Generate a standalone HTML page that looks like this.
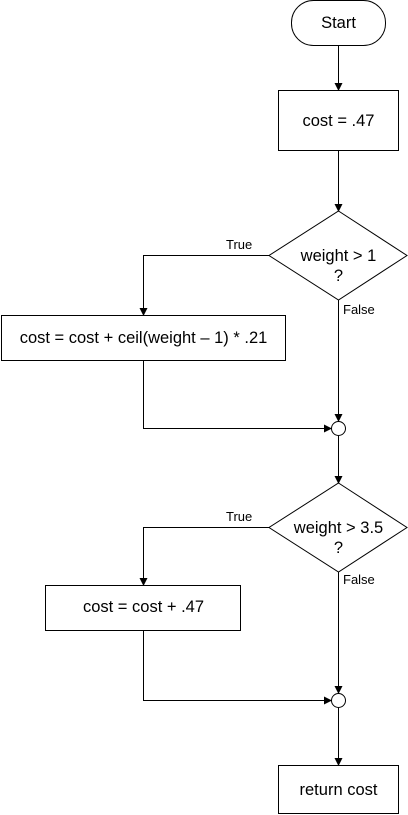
<!DOCTYPE html>
<html><head><style>body{margin:0;background:#fff}svg{display:block}</style></head><body>
<svg width="408" height="815" xmlns="http://www.w3.org/2000/svg" font-family="Liberation Sans, Arial, sans-serif">
<defs><marker id="a" markerWidth="8" markerHeight="8" refX="7" refY="4" orient="auto" markerUnits="userSpaceOnUse"><path d="M0,0 L8,4 L0,8 z" fill="#000"/></marker></defs>
<g fill="none" stroke="#000" stroke-width="1">
<rect x="291.5" y="0.5" width="94" height="45" rx="22" ry="22"/>
<rect x="278.5" y="90.5" width="120" height="60"/>
<polygon points="338.5,211 407,255.5 338.5,300 269,255.5"/>
<rect x="1.5" y="315.5" width="284" height="45"/>
<circle cx="338.5" cy="428.5" r="7"/>
<polygon points="338.5,483 407,527.5 338.5,572 269,527.5"/>
<rect x="45.5" y="585.5" width="195" height="45"/>
<circle cx="338.5" cy="700.5" r="7"/>
<rect x="278.5" y="765.5" width="120" height="48"/>
<path d="M338.5,45 V90" marker-end="url(#a)"/>
<path d="M338.5,151 V211" marker-end="url(#a)"/>
<path d="M269,255.5 H143.5 V315" marker-end="url(#a)"/>
<path d="M338.5,300 V421" marker-end="url(#a)"/>
<path d="M143.5,361 V428.5 H331" marker-end="url(#a)"/>
<path d="M338.5,436 V483" marker-end="url(#a)"/>
<path d="M269,527.5 H143.5 V585" marker-end="url(#a)"/>
<path d="M338.5,572 V693" marker-end="url(#a)"/>
<path d="M143.5,631 V700.5 H331" marker-end="url(#a)"/>
<path d="M338.5,708 V765" marker-end="url(#a)"/>
</g>
<g font-size="16.5" text-anchor="middle" fill="#000">
<text x="338.5" y="28">Start</text>
<text x="338.5" y="126">cost = .47</text>
<text x="338.5" y="261">weight &gt; 1</text>
<text x="338.5" y="281">?</text>
<text x="143.5" y="343">cost = cost + ceil(weight – 1) * .21</text>
<text x="338.5" y="533">weight &gt; 3.5</text>
<text x="338.5" y="553">?</text>
<text x="143.5" y="612">cost = cost + .47</text>
<text x="338.5" y="795">return cost</text>
</g>
<g font-size="13" fill="#000">
<text x="226" y="249">True</text>
<text x="343" y="314">False</text>
<text x="226" y="521">True</text>
<text x="343" y="584">False</text>
</g>
</svg>
</body></html>
